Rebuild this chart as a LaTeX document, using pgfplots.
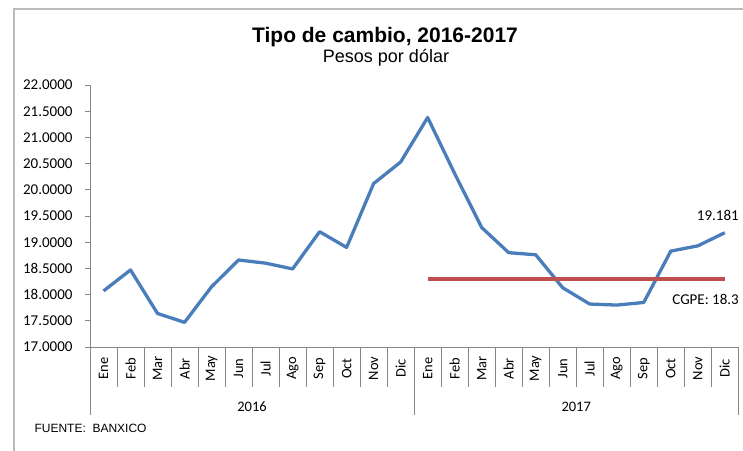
\documentclass[border=0pt]{standalone}
\usepackage{pgfplots}
\pgfplotsset{compat=1.18}
\usepackage{fontspec}
\setmainfont{Liberation Sans}
\newfontfamily\calfont{Carlito}
\definecolor{lineblue}{HTML}{4A7EBB}
\definecolor{linered}{HTML}{C0504D}
\definecolor{axgray}{HTML}{868686}
\definecolor{framegray}{HTML}{BBBBBB}
\begin{document}
\begin{tikzpicture}[x=1pt,y=1pt]
\draw[framegray,line width=1.8pt] (14,-5) -- (14,441) -- (760,441);
\node[font=\fontsize{21}{24}\selectfont\bfseries] at (385,413) {Tipo de cambio, 2016-2017};
\node[font=\fontsize{18}{21}\selectfont] at (386,392.5) {Pesos por dólar};
\begin{axis}[
  at={(90pt,103pt)}, anchor=south west,
  scale only axis, width=648.3pt, height=262pt,
  xmin=-0.5, xmax=23.5, ymin=17, ymax=22,
  axis x line*=bottom, axis y line*=left,
  axis line style={axgray, line width=0.8pt},
  xtick=\empty,
  ytick={17,17.5,...,22},
  yticklabel style={font=\calfont\fontsize{15}{17}\selectfont, xshift=-9pt},
  /pgf/number format/assume math mode=true,
  yticklabel={\pgfmathprintnumber[fixed,fixed zerofill,precision=4]{\tick}},
  ytick style={axgray, line width=0.8pt},
  tick align=outside, major tick length=5pt,
  clip=false,
]
\addplot[lineblue, line width=3.3pt, line join=round] coordinates {
(0,18.07) (1,18.47) (2,17.64) (3,17.47) (4,18.15) (5,18.66) (6,18.60) (7,18.49) (8,19.20) (9,18.90) (10,20.12) (11,20.53)
(12,21.38) (13,20.31) (14,19.28) (15,18.80) (16,18.76) (17,18.13) (18,17.82) (19,17.80) (20,17.85) (21,18.83) (22,18.93) (23,19.181)
};
\addplot[linered, line width=3.3pt] coordinates {(12,18.3) (23,18.3)};
\foreach \k in {-0.5,0.5,...,23.5}{
  \edef\tmp{\noexpand\draw[axgray, line width=0.8pt] (axis cs:\k,17) -- (axis cs:\k,16.246);}\tmp
}
\foreach \k in {-0.5,11.5,23.5}{
  \edef\tmp{\noexpand\draw[axgray, line width=0.8pt] (axis cs:\k,17) -- (axis cs:\k,15.693);}\tmp
}
\foreach \m [count=\i from 0] in {Ene,Feb,Mar,Abr,May,Jun,Jul,Ago,Sep,Oct,Nov,Dic,Ene,Feb,Mar,Abr,May,Jun,Jul,Ago,Sep,Oct,Nov,Dic}{
  \edef\tmp{\noexpand\node[rotate=90, font=\noexpand\calfont\noexpand\fontsize{14.5}{16}\noexpand\selectfont] at (axis cs:\i,16.59) {\m};}\tmp
}
\node[font=\calfont\fontsize{14.5}{16}\selectfont] at (axis cs:5.5,15.855) {2016};
\node[font=\calfont\fontsize{14.5}{16}\selectfont] at (axis cs:17.5,15.855) {2017};
\node[font=\calfont\fontsize{15}{17}\selectfont, anchor=east] at (axis cs:23.5,19.181) [yshift=17pt,xshift=4pt] {19.181};
\node[font=\calfont\fontsize{15}{17}\selectfont, anchor=east] at (axis cs:23.5,18.3) [yshift=-21pt,xshift=4pt] {CGPE: 18.3};
\end{axis}
\node[font=\fontsize{12}{14}\selectfont, anchor=west] at (31,22) {FUENTE:\ \ BANXICO};
\pgfresetboundingbox
\useasboundingbox (0,0) rectangle (743,450);
\end{tikzpicture}
\end{document}
